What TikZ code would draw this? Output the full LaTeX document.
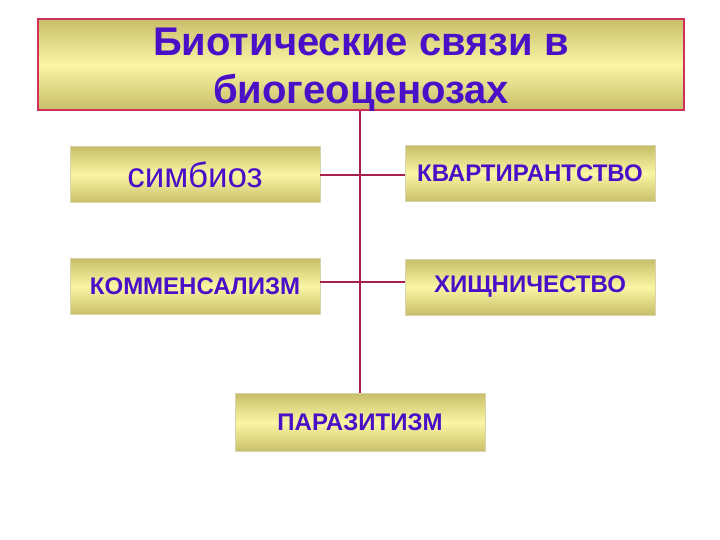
\documentclass[tikz,border=0pt]{standalone}
\usepackage{fontspec}
\setmainfont{Liberation Sans}
\begin{document}
\begin{tikzpicture}[x=1pt,y=-1pt,
  item/.style={draw=boxedge,line width=0.8pt,minimum width=250pt,minimum height=56pt,
    top color=boxdark,bottom color=boxdark,middle color=boxlight,inner sep=0pt,text=textblue,
    font=\bfseries\fontsize{24}{28}\selectfont},
  link/.style={draw=linkred,line width=1.3pt}]
\definecolor{textblue}{HTML}{4A10C8}
\definecolor{boxdark}{HTML}{C8BE6A}
\definecolor{boxlight}{HTML}{FAF6A4}
\definecolor{boxedge}{HTML}{D8D4B0}
\definecolor{linkred}{HTML}{A8204C}
\definecolor{titleedge}{HTML}{D0305C}
\useasboundingbox (0,0) rectangle (720,540);
\node[draw=titleedge,line width=2.5pt,minimum width=646pt,minimum height=91pt,
  top color=boxdark,bottom color=boxdark,middle color=boxlight,inner sep=0pt]
  (title) at (361,64.5) {};
\node[align=center,text=textblue,font=\bfseries\fontsize{40}{48}\selectfont,inner sep=0pt]
  (titletext) at (361,70) {Биотические связи в\\биогеоценозах};
\node[item,font=\fontsize{35}{40}\selectfont] (sym) at (195,174.5) {симбиоз};
\node[item] (kv) at (530,173.5) {КВАРТИРАНТСТВО};
\node[item] (kom) at (195,286.5) {КОММЕНСАЛИЗМ};
\node[item] (hish) at (530,287) {ХИЩНИЧЕСТВО};
\node[item,minimum height=58pt] (par) at (360,422.5) {ПАРАЗИТИЗМ};
\coordinate (j1) at (360,175);
\coordinate (j2) at (360,282);
\draw[link] (title.south -| par.north) -- (par.north);
\draw[link] (sym.east |- j1) -- (kv.west |- j1);
\draw[link] (kom.east |- j2) -- (hish.west |- j2);
\end{tikzpicture}
\end{document}
